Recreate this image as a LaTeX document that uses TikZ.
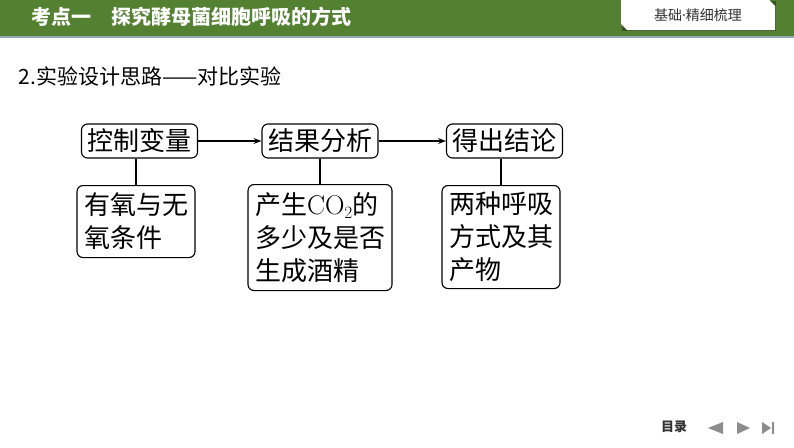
\documentclass[tikz,border=0pt]{standalone}
\usepackage{fontspec}
\newfontfamily\cjk{Noto Sans CJK SC}
\newfontfamily\latinsans{Noto Sans}
\definecolor{hdrgreen}{RGB}{84,128,50}
\definecolor{hdrline}{RGB}{140,166,186}
\definecolor{tabtext}{RGB}{51,51,51}
\definecolor{navgray}{RGB}{140,140,140}
\usetikzlibrary{arrows.meta,positioning}

\tikzset{
  stepbox/.style={draw, rounded corners=6pt, line width=1.1pt,
    font=\cjk\fontsize{26}{33}\selectfont,
    inner xsep=6pt, inner ysep=2pt, minimum height=34pt},
  notebox/.style={stepbox, align=left, anchor=north, inner xsep=7pt},
  link/.style={line width=1.1pt},
  flow/.style={link, -{Stealth[length=8pt,width=6pt,inset=3pt]}}
}

\begin{document}
\begin{tikzpicture}[x=1pt, y=-1pt]
  \useasboundingbox (0,0) rectangle (794,447);

  % Header bar
  \fill[hdrgreen] (0,0) rectangle (794,36);
  \fill[hdrline] (0,36) rectangle (794,38);
  \node[anchor=west, text=white, font=\cjk\bfseries\fontsize{20}{20}\selectfont] (title) at (28,17)
    {考点一\hspace{1em}探究酵母菌细胞呼吸的方式};
  % Tab on the right
  \fill[black!35!hdrgreen] (622,1) -- (622,31) -- (776,31) -- (776,1) -- cycle;
  \fill[white] (621,0) -- (769,0) -- (775,6) -- (775,30) -- (627,30) -- (621,24) -- cycle;
  \node[text=tabtext, font=\cjk\fontsize{14}{14}\selectfont] (tab) at (698,15)
    {基础{\latinsans ·}精细梳理};

  % Subtitle
  \node[anchor=west, font=\cjk\fontsize{21}{21}\selectfont] (sub) at (15,76)
    {2.实验设计思路——对比实验};

  % Top row
  \node[stepbox] (ctrl) at (139.5,141) {控制变量};
  \node[stepbox] (anal) at (320,141) {结果分析};
  \node[stepbox] (conc) at (504.5,141) {得出结论};
  \draw[flow] (ctrl) -- (anal);
  \draw[flow] (anal) -- (conc);

  % Bottom row
  \node[notebox, minimum height=72pt] (cond) at (136,185) {有氧与无\\氧条件};
  \node[notebox, minimum height=106pt] (co2) at (320,184)
    {产生{\rmfamily\fontsize{27}{33}\selectfont CO}$_2$的\\多少及是否\\生成酒精};
  \node[notebox, minimum height=103pt] (mode) at (501,185) {两种呼吸\\方式及其\\产物};
  \draw[link] (cond.north |- ctrl.south) -- (cond.north);
  \draw[link] (co2.north |- anal.south) -- (co2.north);
  \draw[link] (mode.north |- conc.south) -- (mode.north);

  % Navigation
  \node[text=tabtext, font=\cjk\bfseries\fontsize{13}{13}\selectfont] (toc) at (674,427) {目录};
  \fill[navgray] (708,428) -- (723,422) -- (723,434) -- cycle;
  \fill[navgray] (750,428) -- (737,422) -- (737,434) -- cycle;
  \fill[navgray] (771,428) -- (762,422) -- (762,434) -- cycle;
  \fill[navgray] (772,422) rectangle (774,434);
\end{tikzpicture}
\end{document}
